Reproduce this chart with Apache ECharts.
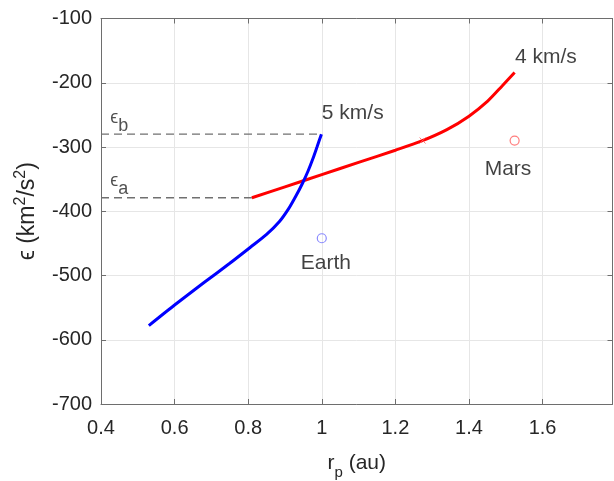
<!DOCTYPE html>
<html>
<head>
<meta charset="utf-8">
<script src="https://cdn.jsdelivr.net/npm/echarts@6/dist/echarts.min.js"></script>
<style>html,body{margin:0;padding:0;background:#fff}#c{width:614px;height:481px}</style>
</head>
<body>
<div id="c"></div>
<script>
// 4 km/s curve (red)
var redX = [0.81, 0.9, 1.0, 1.1, 1.2, 1.27, 1.34, 1.4, 1.45, 1.49, 1.524];
var redY = [-379, -362, -343, -324, -305, -291, -273, -252, -229, -205, -184];
// 5 km/s curve (blue)
var blueX = [0.53, 0.6, 0.68, 0.75, 0.806, 0.85, 0.885, 0.91, 0.93, 0.948, 0.963, 0.976, 0.987, 0.999];
var blueY = [-578, -546, -511, -481, -456, -436, -416, -396, -376, -356, -337, -318, -300, -280];
// reference levels
var epsB = -280, epsBEndX = 1.0;
var epsA = -379, epsAEndX = 0.81;
// planets
var earth = [1.0, -442];
var mars = [1.524, -290];
var crossMark = [1.274, -290];
// axes
var xMin = 0.4, xMax = 1.79, xStep = 0.2;
var yMin = -700, yMax = -100, yStep = 100;
// annotation text anchors
var annot = [
  {name: '5 km/s', pos: [1.0, -247], align: 'left'},
  {name: '4 km/s', pos: [1.525, -160], align: 'left'},
  {name: 'Mars', pos: [1.506, -335], align: 'center'},
  {name: 'Earth', pos: [1.011, -481], align: 'center'}
];
var epsLabels = [
  {sub: 'b', pos: [0.425, -261]},
  {sub: 'a', pos: [0.425, -359]}
];

function zip(a, b) { return a.map(function (v, i) { return [v, b[i]]; }); }

var font = 'Liberation Sans, Arial, sans-serif';
var chart = echarts.init(document.getElementById('c'), null, {renderer: 'canvas'});
var axisCol = '#6e6e6e';
var txtCol = '#262626';

var option = {
  animation: false,
  grid: {left: 101, right: 1.5, top: 18.5, bottom: 77, containLabel: false, outerBoundsMode: 'none'},
  xAxis: [{
    type: 'value', min: xMin, max: xMax, interval: xStep,
    axisLine: {show: true, lineStyle: {color: axisCol, width: 1}},
    axisTick: {show: true, inside: true, length: 5, lineStyle: {color: axisCol}},
    axisLabel: {color: txtCol, fontSize: 20, fontFamily: font, margin: 14,
      showMaxLabel: false},
    splitLine: {show: true, lineStyle: {color: '#e6e6e6', width: 1}},
    name: '{m|r}{s|p}{m| (au)}', nameLocation: 'middle', nameGap: 42,
    nameTextStyle: {rich: {
      m: {fontSize: 21, fontFamily: font, color: txtCol, lineHeight: 34, verticalAlign: 'middle'},
      s: {fontSize: 15, fontFamily: font, color: txtCol, lineHeight: 15, verticalAlign: 'bottom'}
    }}
  }, {
    type: 'value', position: 'top', min: xMin, max: xMax, interval: xStep,
    axisLine: {show: true, lineStyle: {color: axisCol, width: 1}},
    axisTick: {show: true, inside: true, length: 5, lineStyle: {color: axisCol}},
    axisLabel: {show: false}, splitLine: {show: false}
  }],
  yAxis: [{
    type: 'value', min: yMin, max: yMax, interval: yStep,
    axisLine: {show: true, lineStyle: {color: axisCol, width: 1}},
    axisTick: {show: true, inside: true, length: 5, lineStyle: {color: axisCol}},
    axisLabel: {color: txtCol, fontSize: 20, fontFamily: font, margin: 9},
    splitLine: {show: true, lineStyle: {color: '#e6e6e6', width: 1}},
    name: '{m|\u03F5 (km}{s|2}{m|/s}{s|2}{m|)}', nameLocation: 'middle', nameGap: 58, nameRotate: 90,
    nameTextStyle: {rich: {
      m: {fontSize: 23, fontFamily: font, color: txtCol, lineHeight: 30, verticalAlign: 'middle'},
      s: {fontSize: 16, fontFamily: font, color: txtCol, lineHeight: 16, verticalAlign: 'top'}
    }}
  }, {
    type: 'value', position: 'right', min: yMin, max: yMax, interval: yStep,
    axisLine: {show: true, lineStyle: {color: axisCol, width: 1}},
    axisTick: {show: true, inside: true, length: 5, lineStyle: {color: axisCol}},
    axisLabel: {show: false}, splitLine: {show: false}
  }],
  series: [
    {type: 'line', data: [[xMin, epsB], [epsBEndX, epsB]], symbol: 'none',
      lineStyle: {color: '#707070', width: 1.3, type: [8, 5]}, z: 2},
    {type: 'line', data: [[xMin, epsA], [epsAEndX, epsA]], symbol: 'none',
      lineStyle: {color: '#707070', width: 1.3, type: [8, 5]}, z: 2},
    {type: 'line', data: zip(redX, redY), symbol: 'none', smooth: 0.25,
      lineStyle: {color: '#ff0000', width: 3}, z: 3},
    {type: 'line', data: zip(blueX, blueY), symbol: 'none', smooth: 0.25,
      lineStyle: {color: '#0000ff', width: 3}, z: 4},
    {type: 'scatter', data: [earth], symbol: 'circle', symbolSize: 9,
      itemStyle: {color: 'rgba(0,0,0,0)', borderColor: '#6b6bff', borderWidth: 1.2}, z: 5},
    {type: 'scatter', data: [mars], symbol: 'circle', symbolSize: 9,
      itemStyle: {color: 'rgba(0,0,0,0)', borderColor: '#ff5b5b', borderWidth: 1.2}, z: 5},
    {type: 'scatter', data: [crossMark], symbol: 'path://M0,0L10,10M10,0L0,10', symbolSize: 6,
      itemStyle: {color: 'rgba(0,0,0,0)', borderColor: '#ff5b5b', borderWidth: 1}, z: 5},
    {type: 'scatter', symbolSize: 0, z: 6, silent: true,
      data: annot.map(function (a) {
        return {value: a.pos, name: a.name,
          label: {show: true, position: 'inside', align: a.align, verticalAlign: 'middle',
            formatter: a.name, fontSize: 21, fontFamily: font, color: '#111'}};
      })},
    {type: 'scatter', symbolSize: 0, z: 6, silent: true,
      data: epsLabels.map(function (a) {
        return {value: a.pos,
          label: {show: true, position: 'inside', align: 'left', verticalAlign: 'middle',
            formatter: '{e|\u03F5}{s|' + a.sub + '}',
            rich: {
              e: {fontSize: 18, fontFamily: font, color: txtCol, lineHeight: 26, verticalAlign: 'top'},
              s: {fontSize: 18, fontFamily: font, color: txtCol, lineHeight: 18, verticalAlign: 'bottom'}
            }}};
      })}
  ]
};
chart.setOption(option);
</script>
</body>
</html>
